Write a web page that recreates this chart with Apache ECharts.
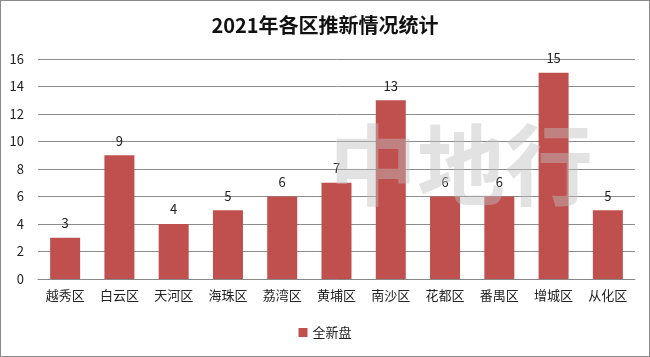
<!DOCTYPE html>
<html><head><meta charset="utf-8">
<script src="https://cdn.jsdelivr.net/npm/echarts@6/dist/echarts.min.js"></script>
<style>html,body{margin:0;padding:0;background:#fff;}#c{width:648px;height:355px;border:1px solid #8a8a8a;}</style>
</head><body><div id="c"></div>
<script>
const categories = ['越秀区','白云区','天河区','海珠区','荔湾区','黄埔区','南沙区','花都区','番禺区','增城区','从化区'];
const values = [3,9,4,5,6,7,13,6,6,15,5];
const seriesName = '全新盘';
const chart = echarts.init(document.getElementById('c'));
const font = '"Noto Sans CJK SC", "Microsoft YaHei", sans-serif';
chart.setOption({
  animation:false,
  title:{text:'2021年各区推新情况统计',left:'center',top:9,textStyle:{fontSize:20,fontWeight:'bold',color:'#111',fontFamily:font}},
  graphic:[{type:'text',left:328,top:120,z:100,silent:true,style:{text:'中地行',fontSize:88,fontWeight:'bold',fill:'rgba(190,190,190,0.45)',fontFamily:font}}],
  legend:{bottom:12,left:'center',itemWidth:9,itemHeight:9,icon:'rect',textStyle:{fontSize:13,color:'#222',fontFamily:font},data:[seriesName]},
  grid:{left:37,right:14,top:58,bottom:77},
  xAxis:{type:'category',data:categories,axisLine:{lineStyle:{color:'#888'}},axisTick:{show:false},axisLabel:{fontSize:13,color:'#222',margin:10,fontFamily:font}},
  yAxis:{type:'value',min:0,max:16,interval:2,axisLine:{show:false},axisTick:{show:false},splitLine:{lineStyle:{color:'#8c8c8c'}},axisLabel:{fontSize:13,color:'#222',margin:14,fontFamily:font}},
  series:[{name:seriesName,type:'bar',data:values,barWidth:30,itemStyle:{color:'#C0504D'},label:{show:true,position:'top',fontSize:13,color:'#222',distance:8,fontFamily:font}}]
});
</script></body></html>
